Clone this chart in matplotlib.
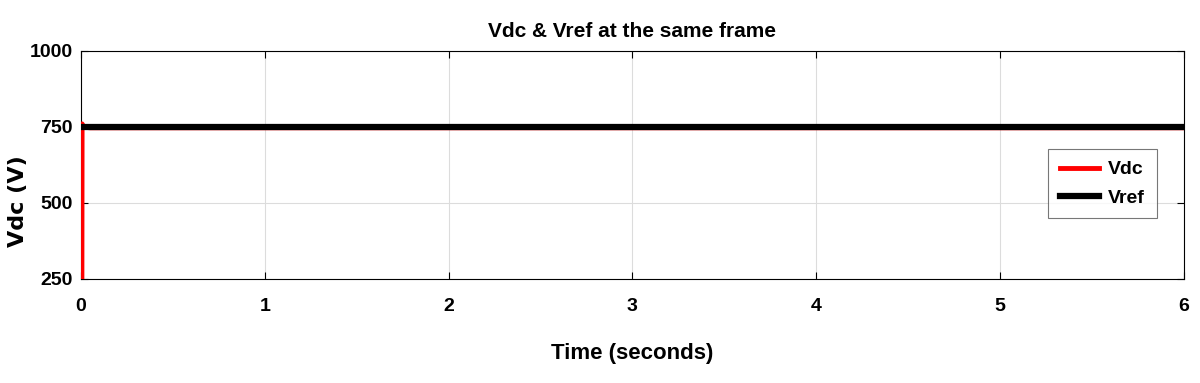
import matplotlib
matplotlib.use("Agg")
import matplotlib.pyplot as plt
import numpy as np

# Data
t_vdc = [0.005, 0.006, 0.015, 0.05, 6.0]
vdc = [250, 760, 749, 747, 747]
t_ref = [0.0, 6.0]
vref = [751, 751]

x_ticks = [0, 1, 2, 3, 4, 5, 6]
y_ticks = [250, 500, 750, 1000]

narrow = ['Liberation Sans Narrow', 'Liberation Sans', 'DejaVu Sans']
plt.rcParams['font.family'] = narrow

fig = plt.figure(figsize=(12, 3.83), dpi=100)
ax = fig.add_axes([0.0675, 0.272, 0.919, 0.595])

ax.plot(t_vdc, vdc, color='red', linewidth=3.5, label='Vdc', zorder=3)
ax.plot(t_ref, vref, color='black', linewidth=4.5, label='Vref', zorder=4)

ax.set_xlim(0, 6)
ax.set_ylim(250, 1000)
ax.set_xticks(x_ticks)
ax.set_yticks(y_ticks)
ax.grid(True, color='#dcdcdc', linewidth=0.8)
ax.set_axisbelow(True)
ax.tick_params(direction='in', length=5, top=True, right=True,
               labelsize=14, width=0.8)
ax.tick_params(axis='x', pad=14)
ax.tick_params(axis='y', pad=6)
for lab in ax.get_xticklabels() + ax.get_yticklabels():
    lab.set_fontweight('bold')
for s in ax.spines.values():
    s.set_linewidth(0.8)

ax.set_title('Vdc & Vref at the same frame', fontsize=15, fontweight='bold', pad=10)
ax.set_xlabel('Time (seconds)', fontsize=16, fontweight='bold', labelpad=20)
ax.set_ylabel('Vdc (V)', fontsize=16, fontweight='bold',
              family=['DejaVu Sans'])
ax.yaxis.set_label_coords(-0.057, 0.34)
ax.yaxis.label.set_va('center')

leg = ax.legend(loc='center right', bbox_to_anchor=(0.9755, 0.417),
                prop={'weight': 'bold', 'size': 14}, frameon=True, fancybox=False,
                edgecolor='#555555', handlelength=2.0, handletextpad=0.5,
                borderpad=0.6, labelspacing=0.55, borderaxespad=0)
leg.get_frame().set_linewidth(0.8)

fig.savefig('out.png', dpi=100)
